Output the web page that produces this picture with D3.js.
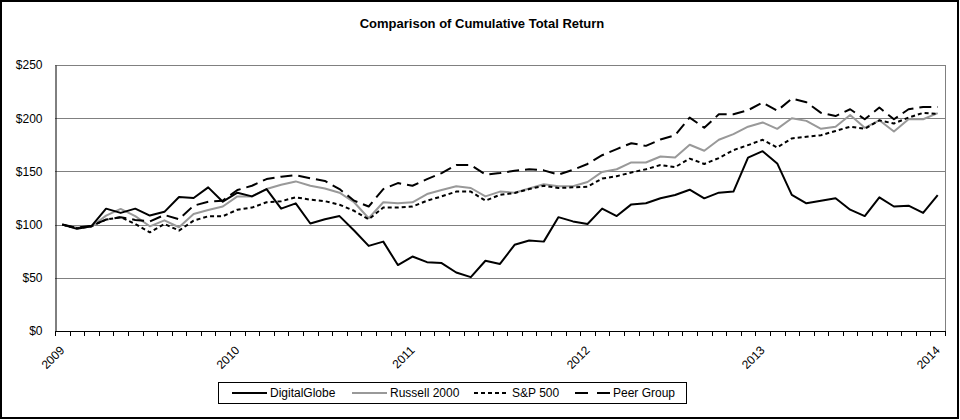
<!DOCTYPE html>
<html>
<head>
<meta charset="utf-8">
<script src="https://cdn.jsdelivr.net/npm/d3@7"></script>
<style>
  html, body { margin: 0; padding: 0; background: #fff; }
  svg { display: block; font-family: "Liberation Sans", Arial, sans-serif; }
</style>
</head>
<body>
<svg id="chart" width="960" height="420"></svg>
<script>
// ---- Data (monthly, Jan 2009 .. Jan 2014) ----
const yearLabels = ["2009", "2010", "2011", "2012", "2013", "2014"];
const yTicks = [0, 50, 100, 150, 200, 250];

const digitalGlobe = [100, 96, 98.5, 115, 111, 115, 108.5, 112, 126, 125, 135, 121.5,
  130, 126.5, 133.4, 115, 120, 101, 105, 108, 94.4, 80, 84, 62, 70, 64.7, 63.8, 55,
  50.6, 66, 63, 81, 85, 84, 107, 103, 100.6, 115, 108, 119, 120, 124.7, 127.8, 132.8,
  124.7, 130, 131, 163, 169, 157.5, 128, 120, 122.5, 124.7, 114, 108, 125.6, 117,
  117.8, 111, 127.8];
const russell2000 = [100, 97, 98, 108.4, 114.7, 108, 98.4, 104, 97.5, 110, 113.7, 117,
  126.5, 126.5, 133.4, 137.5, 140.6, 136.5, 134, 130, 121, 106, 121, 120, 121, 128.7,
  132.5, 136, 134.4, 126.5, 131, 130, 134, 138, 136, 136, 140, 149.5, 152, 158.4,
  158.4, 164, 163, 175, 169.4, 179.7, 185, 192, 196, 190, 200, 197.5, 190, 192, 203,
  191, 198, 187.5, 199, 199, 204.7];
const sp500 = [100, 96.5, 98.5, 104.7, 107, 100.6, 92.8, 100.6, 94.4, 103.7, 107.8,
  107.8, 114, 116, 121, 122, 125.6, 123.4, 122, 118.7, 113, 105, 116, 116, 117, 122.5,
  126.5, 131, 131, 122.5, 128, 129.7, 133.4, 136.5, 134.4, 135, 135.6, 143.3, 145.5,
  149, 152, 156, 154, 162, 157, 162.5, 170, 174.7, 179.7, 172.5, 181, 182.5, 184, 188,
  192, 190, 198, 195, 200.6, 205, 204];
const peerGroup = [100, 97, 99, 104.7, 107, 104.4, 103, 109, 105, 117.8, 121.5, 122.5,
  132.5, 136.5, 142.8, 145, 146.5, 143.5, 141, 133.4, 122.5, 117, 133.4, 139, 136.5,
  142.8, 148.4, 156, 156, 147, 148.4, 150.6, 152, 151, 147, 151.5, 157, 165.2, 171,
  176.5, 174, 180, 184, 200.6, 191, 203.7, 203.7, 207.5, 214.7, 207, 218.4, 215, 205,
  202, 208.4, 199, 210, 199, 208.4, 210.6, 210.6];

const seriesNames = ["DigitalGlobe", "Russell 2000", "S&P 500", "Peer Group"];
const seriesData = [digitalGlobe, russell2000, sp500, peerGroup];
const seriesColors = ["#000000", "#999999", "#000000", "#000000"];
const seriesDash = [null, null, "4,3", "12,6"];

// ---- Layout ----
const svg = d3.select("#chart");
const W = 960, H = 420;
const plot = { left: 55, right: 945, top: 65, bottom: 331 };

const months = d3.range(digitalGlobe.length);
const x = d3.scalePoint().domain(months).range([plot.left, plot.right]).padding(0.5);
const step = x.step();
const y = d3.scaleLinear().domain([0, 250]).range([plot.bottom, plot.top]);

// outer frame
svg.append("rect").attr("x", 1).attr("y", 1).attr("width", W - 3).attr("height", H - 3)
  .attr("fill", "#fff").attr("stroke", "#000").attr("stroke-width", 2);

// title
svg.append("text").attr("x", 482).attr("y", 28).attr("text-anchor", "middle")
  .attr("font-size", 13).attr("font-weight", "bold").attr("fill", "#000")
  .text("Comparison of Cumulative Total Return");

// gridlines
svg.append("g").selectAll("line").data(yTicks.filter(d => d > 0)).join("line")
  .attr("x1", plot.left).attr("x2", plot.right)
  .attr("y1", d => Math.round(y(d)) + 0.5).attr("y2", d => Math.round(y(d)) + 0.5)
  .attr("stroke", "#808080").attr("stroke-width", 1);

// right plot border
svg.append("line").attr("x1", plot.right + 0.5).attr("x2", plot.right + 0.5)
  .attr("y1", plot.top).attr("y2", plot.bottom)
  .attr("stroke", "#808080").attr("stroke-width", 1);

// y axis
const yAxis = d3.axisLeft(y).tickValues(yTicks).tickSize(0).tickPadding(13)
  .tickFormat(d => "$" + d);
const gy = svg.append("g").attr("transform", `translate(${plot.left + 0.5},0)`).call(yAxis);
gy.select(".domain").attr("stroke", "#000");
gy.selectAll("text").attr("font-size", 12).attr("fill", "#000")
  .attr("font-family", "Liberation Sans, Arial, sans-serif");

// x axis: ticks between categories
const boundaries = d3.range(months.length + 1).map(i => plot.left + i * step);
svg.append("line").attr("x1", plot.left).attr("x2", plot.right + 1)
  .attr("y1", plot.bottom + 0.5).attr("y2", plot.bottom + 0.5)
  .attr("stroke", "#000").attr("stroke-width", 1);
svg.append("g").selectAll("line").data(boundaries).join("line")
  .attr("x1", d => Math.round(d) + 0.5).attr("x2", d => Math.round(d) + 0.5)
  .attr("y1", plot.bottom).attr("y2", plot.bottom + 5)
  .attr("stroke", "#000").attr("stroke-width", 1);

// year labels (every 12 months), rotated
svg.append("g").selectAll("text").data(yearLabels).join("text")
  .attr("transform", (d, i) => `translate(${x(i * 12)},${plot.bottom + 17}) rotate(-45)`)
  .attr("text-anchor", "end").attr("dy", "0.35em")
  .attr("font-size", 12).attr("fill", "#000")
  .text(d => d);

// series lines
const line = d3.line().x((d, i) => x(i)).y(d => y(d));
const order = [1, 2, 3, 0];
svg.append("g").selectAll("path").data(order).join("path")
  .attr("d", k => line(seriesData[k]))
  .attr("fill", "none")
  .attr("stroke", k => seriesColors[k])
  .attr("stroke-width", 2)
  .attr("stroke-dasharray", k => seriesDash[k])
  .attr("stroke-linejoin", "round");

// legend
const legend = svg.append("g");
legend.append("rect").attr("x", 218.5).attr("y", 382.5).attr("width", 468).attr("height", 21)
  .attr("fill", "#fff").attr("stroke", "#000").attr("stroke-width", 1);
const legX = [232, 352, 474, 575];
const legDash = [null, null, "4,3", "13,9"];
const li = legend.selectAll("g.item").data(seriesNames).join("g").attr("class", "item")
  .attr("transform", (d, i) => `translate(${legX[i]},393)`);
li.append("line").attr("x1", 0).attr("x2", 35).attr("y1", 0).attr("y2", 0)
  .attr("stroke", (d, i) => seriesColors[i]).attr("stroke-width", 2)
  .attr("stroke-dasharray", (d, i) => legDash[i]);
li.append("text").attr("x", 38).attr("y", 0).attr("dy", "0.35em")
  .attr("font-size", 12).attr("fill", "#000").text(d => d);
</script>
</body>
</html>
